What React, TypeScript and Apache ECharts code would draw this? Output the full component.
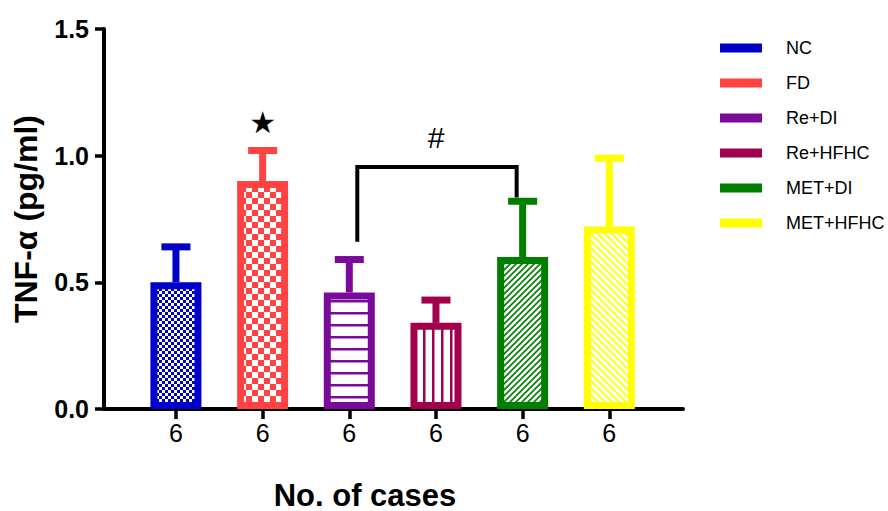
import React, { useEffect, useRef } from "react";
import * as echarts from "echarts";

// Groups, bar means and SEM (upper error) for TNF-α
const GROUPS = ["NC", "FD", "Re+DI", "Re+HFHC", "MET+DI", "MET+HFHC"];
const MEANS = [0.5, 0.9, 0.46, 0.34, 0.6, 0.72];
const SEM = [0.14, 0.12, 0.13, 0.09, 0.22, 0.27];
const CASES = ["6", "6", "6", "6", "6", "6"];
const COLORS = ["#0000C8", "#FF4242", "#7A0A9A", "#A0004C", "#007F00", "#FFFF00"];

// Significance annotations
const BRACKET_GROUPS = [2, 4];
const BRACKET_LEVEL = 0.955;
const BRACKET_FEET = [0.66, 0.835];
const SIG_MARKS = ["★", "#"];
const SIG_POS = [
  [1, 1.13],
  [3, 1.07],
];

const FONT = "'Liberation Sans', Arial, sans-serif";

function tile(w: number, h: number, draw: (ctx: CanvasRenderingContext2D) => void) {
  const c = document.createElement("canvas");
  c.width = w;
  c.height = h;
  const ctx = c.getContext("2d")!;
  draw(ctx);
  return c;
}

function checker(color: string, cell: number) {
  return tile(cell * 2, cell * 2, (ctx) => {
    ctx.fillStyle = color;
    ctx.fillRect(0, 0, cell * 2, cell * 2);
    ctx.fillStyle = "#fff";
    ctx.fillRect(0, 0, cell, cell);
    ctx.fillRect(cell, cell, cell, cell);
  });
}

function hLines(color: string, step: number, lw: number) {
  return tile(step, step, (ctx) => {
    ctx.fillStyle = "#fff";
    ctx.fillRect(0, 0, step, step);
    ctx.fillStyle = color;
    ctx.fillRect(0, 0, step, lw);
  });
}

function vLines(color: string, step: number, lw: number) {
  return tile(step, step, (ctx) => {
    ctx.fillStyle = "#fff";
    ctx.fillRect(0, 0, step, step);
    ctx.fillStyle = color;
    ctx.fillRect(0, 0, lw, step);
  });
}

function diag(color: string, s: number, lw: number, rising: boolean) {
  return tile(s, s, (ctx) => {
    ctx.fillStyle = "#fff";
    ctx.fillRect(0, 0, s, s);
    ctx.strokeStyle = color;
    ctx.lineWidth = lw;
    ctx.beginPath();
    if (rising) {
      ctx.moveTo(0, s);
      ctx.lineTo(s, 0);
      ctx.moveTo(-1, 1);
      ctx.lineTo(1, -1);
      ctx.moveTo(s - 1, s + 1);
      ctx.lineTo(s + 1, s - 1);
    } else {
      ctx.moveTo(0, 0);
      ctx.lineTo(s, s);
      ctx.moveTo(-1, s - 1);
      ctx.lineTo(1, s + 1);
      ctx.moveTo(s - 1, -1);
      ctx.lineTo(s + 1, 1);
    }
    ctx.stroke();
  });
}

export default function App() {
  const ref = useRef<HTMLDivElement>(null);

  useEffect(() => {
    if (!ref.current) return;
    const chart = echarts.init(ref.current, undefined, { renderer: "svg" });

    const fills = [
      checker(COLORS[0], 3),
      checker(COLORS[1], 6),
      hLines(COLORS[2], 12, 2.5),
      vLines(COLORS[3], 9, 2.5),
      diag(COLORS[4], 6, 1.6, true),
      diag(COLORS[5], 7, 1.8, false),
    ];

    const bars = GROUPS.map((g, i) => ({
      type: "bar",
      name: g,
      data: [[i, MEANS[i]]],
      barWidth: 51,
      barGap: "-100%",
      z: 3,
      itemStyle: {
        color: { image: fills[i], repeat: "repeat" },
        borderColor: COLORS[i],
        borderWidth: 7,
      },
    }));

    const errorBars = {
      type: "custom",
      name: "SEM",
      z: 4,
      clip: false,
      data: GROUPS.map((_, i) => [i, MEANS[i], MEANS[i] + SEM[i]]),
      renderItem: (params: any, api: any) => {
        const i = api.value(0);
        const base = api.coord([i, api.value(1)]);
        const top = api.coord([i, api.value(2)]);
        const color = COLORS[params.dataIndex];
        return {
          type: "group",
          children: [
            {
              type: "line",
              shape: { x1: base[0], y1: base[1], x2: top[0], y2: top[1] },
              style: { stroke: color, lineWidth: 7 },
            },
            {
              type: "rect",
              shape: { x: top[0] - 14.5, y: top[1] - 3.5, width: 29, height: 7 },
              style: { fill: color },
            },
          ],
        };
      },
    };

    const bracket = {
      type: "custom",
      name: "bracket",
      z: 5,
      clip: false,
      data: [[BRACKET_GROUPS[0], BRACKET_GROUPS[1]]],
      renderItem: (_p: any, api: any) => {
        const a = BRACKET_GROUPS[0];
        const b = BRACKET_GROUPS[1];
        const p1 = api.coord([a, BRACKET_FEET[0]]);
        const p2 = api.coord([a, BRACKET_LEVEL]);
        const p3 = api.coord([b, BRACKET_LEVEL]);
        const p4 = api.coord([b, BRACKET_FEET[1]]);
        return {
          type: "polyline",
          shape: {
            points: [
              [p1[0] + 8, p1[1]],
              [p2[0] + 8, p2[1]],
              [p3[0] - 6, p3[1]],
              [p4[0] - 6, p4[1]],
            ],
          },
          style: { stroke: "#000", lineWidth: 4, fill: "none", lineJoin: "miter" },
        };
      },
    };

    const marks = {
      type: "custom",
      name: "marks",
      z: 5,
      clip: false,
      data: SIG_POS,
      renderItem: (params: any, api: any) => {
        const p = api.coord([api.value(0), api.value(1)]);
        const star = params.dataIndex === 0;
        return {
          type: "text",
          x: p[0],
          y: p[1],
          style: {
            text: SIG_MARKS[params.dataIndex],
            fill: "#000",
            fontSize: 30,
            fontFamily: star ? "'DejaVu Sans', sans-serif" : FONT,
            align: "center",
            verticalAlign: "middle",
          },
        };
      },
    };

    chart.setOption({
      animation: false,
      backgroundColor: "#fff",
      grid: { left: 104, right: 205, top: 29, bottom: 102 },
      legend: {
        orient: "vertical",
        left: 720,
        top: 39,
        padding: 0,
        itemWidth: 42,
        itemHeight: 9,
        itemGap: 17,
        icon: "rect",
        itemStyle: { borderWidth: 0 },
        textStyle: {
          fontFamily: FONT,
          fontSize: 18,
          color: "#000",
          padding: [0, 0, 0, 19],
        },
        data: GROUPS.map((g, i) => ({ name: g, itemStyle: { color: COLORS[i], borderWidth: 0 } })),
      },
      xAxis: {
        type: "value",
        min: -0.83,
        max: 5.85,
        splitLine: { show: false },
        axisLine: { show: true, onZero: false, lineStyle: { color: "#000", width: 4 } },
        axisTick: {
          show: true,
          customValues: [0, 1, 2, 3, 4, 5],
          length: 10,
          lineStyle: { color: "#000", width: 3.5 },
        },
        axisLabel: {
          customValues: [0, 1, 2, 3, 4, 5],
          formatter: (v: number) => CASES[Math.round(v)] ?? "",
          fontFamily: FONT,
          fontSize: 25,
          color: "#000",
          margin: 11,
        },
      },
      yAxis: {
        type: "value",
        min: 0,
        max: 1.5,
        interval: 0.5,
        name: "TNF-α (pg/ml)",
        nameLocation: "middle",
        nameGap: 62,
        nameTextStyle: { fontFamily: FONT, fontSize: 32, fontWeight: "bold", color: "#000" },
        splitLine: { show: false },
        axisLine: { show: true, onZero: false, lineStyle: { color: "#000", width: 4 } },
        axisTick: { show: true, length: 9, lineStyle: { color: "#000", width: 3.5 } },
        axisLabel: {
          formatter: (v: number) => v.toFixed(1),
          fontFamily: FONT,
          fontSize: 25,
          fontWeight: "bold",
          color: "#000",
          margin: 15,
        },
      },
      graphic: [
        {
          type: "text",
          x: 365,
          y: 495,
          style: {
            text: "No. of cases",
            fill: "#000",
            fontFamily: FONT,
            fontSize: 31,
            fontWeight: "bold",
            align: "center",
            verticalAlign: "middle",
          },
        },
      ],
      series: [...bars, errorBars, bracket, marks],
    });

    return () => chart.dispose();
  }, []);

  return (
    <div
      ref={ref}
      style={{ position: "absolute", left: 0, top: 0, width: 888, height: 511 }}
    />
  );
}
